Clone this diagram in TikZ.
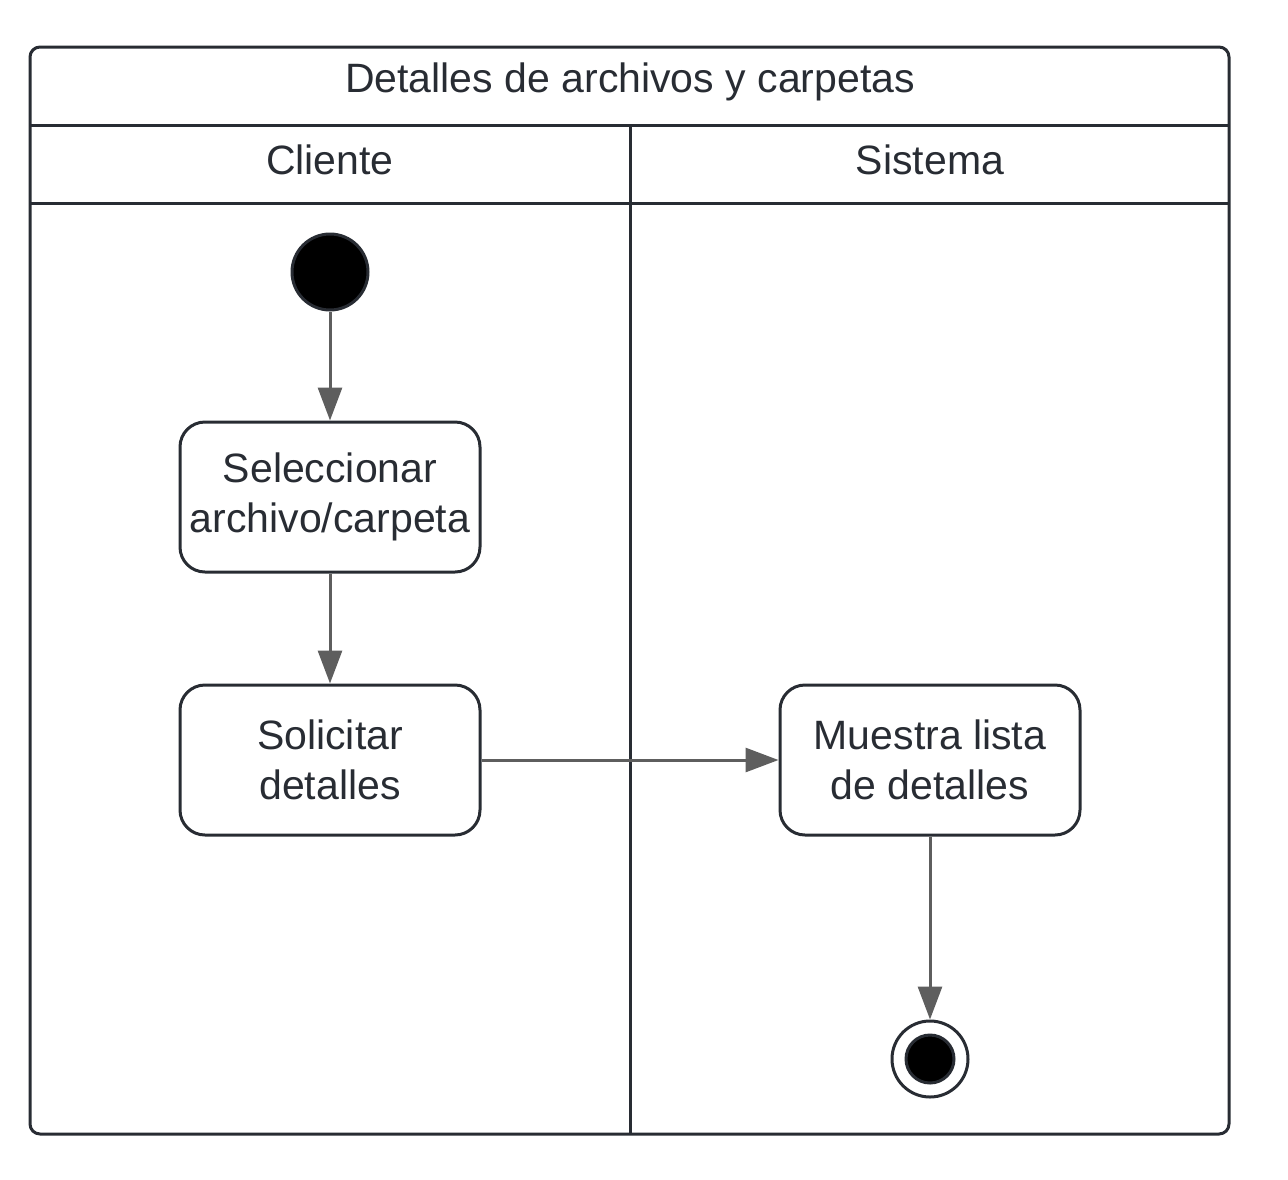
\documentclass[tikz,border=0pt]{standalone}
\usepackage{fontspec}
\setmainfont{Liberation Sans}
\usetikzlibrary{arrows.meta}
\definecolor{ink}{HTML}{282C33}
\definecolor{arrowgray}{HTML}{5E5E5E}
\tikzset{
  frame/.style={draw=ink, line width=3pt},
  label/.style={text=ink, font=\fontsize{41}{50}\selectfont, inner sep=0pt},
  action/.style={draw=ink, line width=3pt, rounded corners=25pt, minimum width=300pt, minimum height=150pt, align=center, text=ink, font=\fontsize{41}{50}\selectfont, inner sep=0pt},
  flow/.style={draw=arrowgray, line width=3pt, -{Triangle[length=33pt, width=24pt]}},
}
\begin{document}
\begin{tikzpicture}[x=1pt, y=-1pt]
\useasboundingbox (0,0) rectangle (1288,1179);
% frame
\draw[frame, rounded corners=10pt] (30,47) rectangle (1229,1134);
\draw[frame] (30,125) -- (1229,125);
\draw[frame] (30,203) -- (1229,203);
\draw[frame] (630,125) -- (630,1134);
% headers
\node[label] (title) at (630,82) {Detalles de archivos y carpetas};
\node[label] (cliente) at (330,160) {Cliente};
\node[label] (sistema) at (930,160) {Sistema};
% nodes
\node[circle, fill=black, draw=ink, line width=3pt, minimum size=76pt, inner sep=0pt] (start) at (330,272) {};
\node[action] (sel) at (330,497) {Seleccionar\\archivo/carpeta};
\node[action] (sol) at (330,760) {Solicitar\\detalles};
\node[action] (mue) at (930,760) {Muestra lista\\de detalles};
\node[circle, draw=ink, fill=white, line width=3pt, minimum size=76pt, inner sep=0pt] (end) at (930,1059) {};
\node[circle, fill=black, draw=ink, line width=3pt, minimum size=48pt, inner sep=0pt] (endin) at (930,1059) {};
% flows
\draw[flow] (start) -- (sel);
\draw[flow] (sel) -- (sol);
\draw[flow] (sol) -- (mue);
\draw[flow] (mue) -- (end);
\end{tikzpicture}
\end{document}
